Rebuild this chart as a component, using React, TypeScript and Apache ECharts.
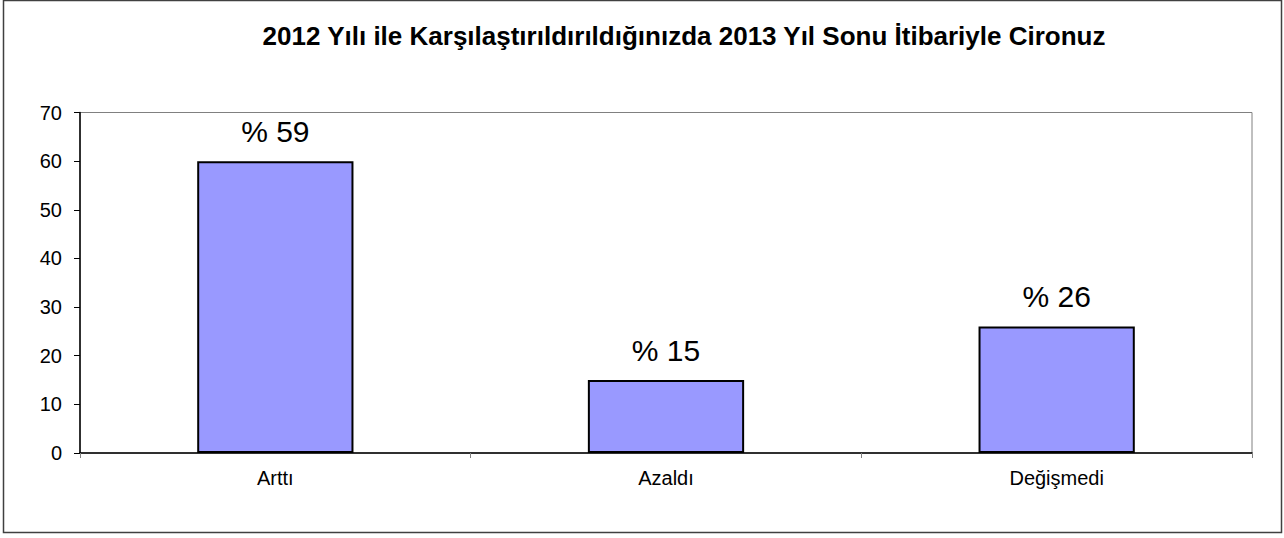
import React, { useEffect, useRef } from "react";
import * as echarts from "echarts";

const title = "2012 Yılı ile Karşılaştırıldırıldığınızda 2013 Yıl Sonu İtibariyle Cironuz";
const categories = ["Arttı", "Azaldı", "Değişmedi"];
const values = [60, 15, 26];
const valueLabels = ["% 59", "% 15", "% 26"];
const yMin = 0;
const yMax = 70;
const yInterval = 10;

export default function App() {
  const ref = useRef<HTMLDivElement>(null);
  useEffect(() => {
    if (!ref.current) return;
    const chart = echarts.init(ref.current, null, { renderer: "svg" });
    const font = "'Liberation Sans', Arial, sans-serif";
    chart.setOption({
      animation: false,
      backgroundColor: "#ffffff",
      textStyle: { fontFamily: font },
      title: {
        text: title,
        left: 684,
        textAlign: "center",
        top: 23,
        padding: 0,
        textStyle: { fontFamily: font, fontSize: 26, fontWeight: "bold", color: "#000" },
      },
      grid: {
        left: 80,
        right: 32,
        top: 112.5,
        bottom: 85,
        show: true,
        borderColor: "#808080",
        borderWidth: 1,
        backgroundColor: "transparent",
      },
      xAxis: {
        type: "category",
        data: categories,
        axisLine: { lineStyle: { color: "#000", width: 1.5 } },
        axisTick: { show: true, length: 5, lineStyle: { color: "#808080" } },
        axisLabel: { fontFamily: font, fontSize: 20, color: "#000", margin: 15 },
      },
      yAxis: {
        type: "value",
        min: yMin,
        max: yMax,
        interval: yInterval,
        axisLine: { show: true, lineStyle: { color: "#000", width: 1.5 } },
        axisTick: { show: true, length: 6, lineStyle: { color: "#000" } },
        splitLine: { show: false },
        axisLabel: { fontFamily: font, fontSize: 20, color: "#000", margin: 18 },
      },
      series: [
        {
          type: "bar",
          data: values,
          barWidth: "40%",
          itemStyle: { color: "#9999ff", borderColor: "#000", borderWidth: 2 },
          label: {
            show: true,
            position: "top",
            distance: 15,
            fontFamily: font,
            fontSize: 30,
            color: "#000",
            formatter: (p: any) => valueLabels[p.dataIndex],
          },
        },
      ],
      graphic: [
        {
          type: "rect",
          shape: { x: 3.5, y: 0.5, width: 1278, height: 532 },
          style: { fill: "none", stroke: "#404040", lineWidth: 1.5 },
          silent: true,
        },
      ],
    });
    return () => chart.dispose();
  }, []);
  return (
    <div
      ref={ref}
      style={{ position: "fixed", left: 0, top: 0, width: 1284, height: 538 }}
    />
  );
}
